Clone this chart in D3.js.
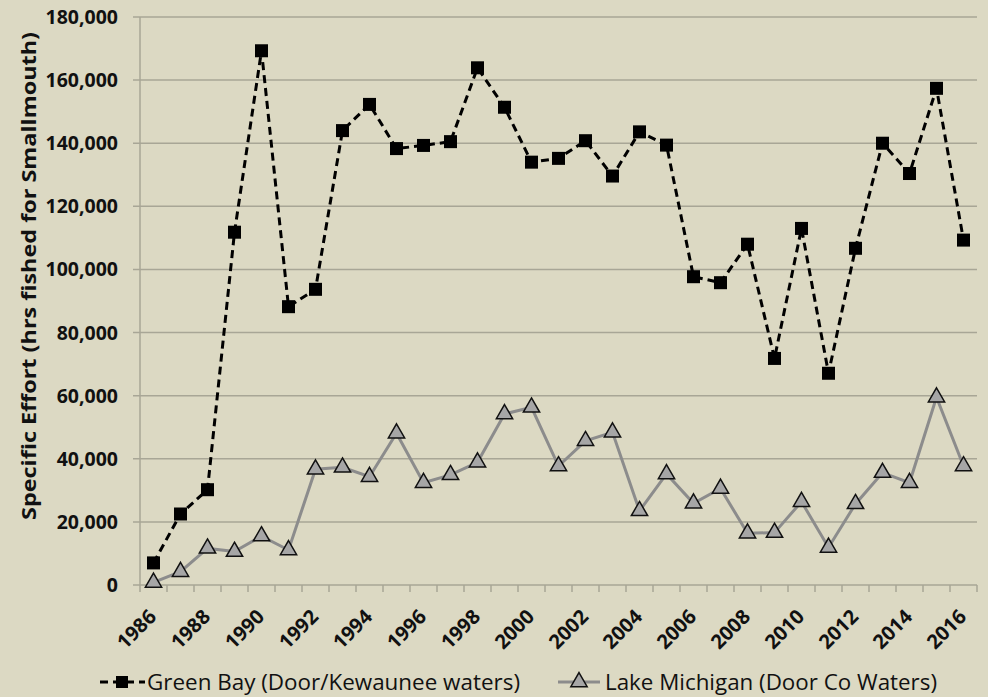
<!DOCTYPE html>
<html>
<head>
<meta charset="utf-8">
<script src="https://cdn.jsdelivr.net/npm/d3@7"></script>
<style>
  body { margin: 0; background: #dcd9c3; }
  svg { display: block; font-family: "Open Sans", sans-serif; }
</style>
</head>
<body>
<script>
// data
var years = d3.range(1986, 2017);
var greenBay = [7000, 22500, 30200, 111800, 169300, 88200, 93700, 144000, 152300, 138300,
  139300, 140500, 163900, 151400, 134000, 135200, 140800, 129600, 143600, 139400,
  97700, 95800, 108000, 71800, 113000, 67100, 106700, 140000, 130400, 157400, 109300];
var lakeMichigan = [800, 4200, 11600, 10600, 15500, 11100, 36700, 37300, 34300, 48100,
  32400, 34900, 38900, 54200, 56300, 37700, 45700, 48400, 23500, 35200,
  25900, 30600, 16400, 16600, 26400, 11900, 25700, 35600, 32400, 59500, 37700];
var yTicks = [0, 20000, 40000, 60000, 80000, 100000, 120000, 140000, 160000, 180000];
var xLabelYears = d3.range(1986, 2017, 2);

var width = 988, height = 697;
var margin = {top: 17, right: 11, bottom: 112, left: 140};
var innerW = width - margin.left - margin.right,
    innerH = height - margin.top - margin.bottom;

var svg = d3.select("body").append("svg")
    .attr("width", width)
    .attr("height", height);

svg.append("rect").attr("width", width).attr("height", height).attr("fill", "#dcd9c3");

var g = svg.append("g")
    .attr("transform", "translate(" + margin.left + "," + margin.top + ")");

var x = d3.scaleBand().domain(years).range([0, innerW]);
var y = d3.scaleLinear().domain([0, 180000]).range([innerH, 0]);

// gridlines + y ticks
g.selectAll(".grid")
    .data(yTicks)
    .enter().append("line")
    .attr("x1", -7).attr("x2", innerW)
    .attr("y1", function(d) { return y(d); })
    .attr("y2", function(d) { return y(d); })
    .attr("stroke", "#a8a696")
    .attr("stroke-width", 1.5);

g.selectAll(".ylab")
    .data(yTicks)
    .enter().append("text")
    .attr("x", -22)
    .attr("y", function(d) { return y(d); })
    .attr("dy", "0.36em")
    .attr("text-anchor", "end")
    .style("font-weight", "bold")
    .style("font-size", "19.5px")
    .attr("fill", "#111")
    .text(function(d) { return d3.format(",")(d); });

// y axis line
g.append("line")
    .attr("x1", 0).attr("x2", 0).attr("y1", 0).attr("y2", innerH)
    .attr("stroke", "#a8a696").attr("stroke-width", 1.5);

// x tick marks at category boundaries
var bounds = years.map(function(d) { return x(d); }).concat([innerW]);
g.selectAll(".xtick")
    .data(bounds)
    .enter().append("line")
    .attr("x1", function(d) { return d; })
    .attr("x2", function(d) { return d; })
    .attr("y1", innerH).attr("y2", innerH + 7)
    .attr("stroke", "#a8a696").attr("stroke-width", 1.5);

g.selectAll(".xlab")
    .data(xLabelYears)
    .enter().append("text")
    .attr("transform", function(d) {
        return "translate(" + (x(d) + x.bandwidth() / 2 + 4) + "," + (innerH + 33) + ") rotate(-45)";
    })
    .attr("text-anchor", "end")
    .style("font-weight", "bold")
    .style("font-size", "20px")
    .attr("fill", "#111")
    .text(function(d) { return d; });

// y axis title
svg.append("text")
    .attr("transform", "translate(36,276) rotate(-90)")
    .attr("text-anchor", "middle")
    .style("font-weight", "bold")
    .style("font-size", "19.5px")
    .attr("textLength", 488)
    .attr("lengthAdjust", "spacingAndGlyphs")
    .attr("fill", "#111")
    .text("Specific Effort (hrs fished for Smallmouth)");

var cx = function(d, i) { return x(years[i]) + x.bandwidth() / 2; };
var line = d3.line()
    .x(cx)
    .y(function(d) { return y(d); });

// Lake Michigan series
g.append("path")
    .datum(lakeMichigan)
    .attr("d", line)
    .attr("fill", "none")
    .attr("stroke", "#8c8c8c")
    .attr("stroke-width", 3);

var tri = d3.symbol().type(d3.symbolTriangle).size(115);
g.selectAll(".tri")
    .data(lakeMichigan)
    .enter().append("path")
    .attr("d", tri)
    .attr("transform", function(d, i) { return "translate(" + cx(d, i) + "," + y(d) + ")"; })
    .attr("fill", "#a6a6a6")
    .attr("stroke", "#111")
    .attr("stroke-width", 1.5);

// Green Bay series
g.append("path")
    .datum(greenBay)
    .attr("d", line)
    .attr("fill", "none")
    .attr("stroke", "#000")
    .attr("stroke-width", 3)
    .attr("stroke-dasharray", "8,5");

g.selectAll(".sq")
    .data(greenBay)
    .enter().append("rect")
    .attr("x", function(d, i) { return cx(d, i) - 6.5; })
    .attr("y", function(d) { return y(d) - 6.5; })
    .attr("width", 13).attr("height", 13)
    .attr("fill", "#000");

// legend
var leg = svg.append("g");
leg.append("line")
    .attr("x1", 100).attr("x2", 145).attr("y1", 682).attr("y2", 682)
    .attr("stroke", "#000").attr("stroke-width", 3).attr("stroke-dasharray", "8,5");
leg.append("rect")
    .attr("x", 116).attr("y", 676).attr("width", 12).attr("height", 12).attr("fill", "#000");
leg.append("text")
    .attr("x", 147).attr("y", 690)
    .style("font-size", "21px")
    .attr("textLength", 373)
    .attr("lengthAdjust", "spacingAndGlyphs")
    .attr("fill", "#111")
    .text("Green Bay (Door/Kewaunee waters)");

leg.append("line")
    .attr("x1", 558).attr("x2", 600).attr("y1", 682).attr("y2", 682)
    .attr("stroke", "#8c8c8c").attr("stroke-width", 3);
leg.append("path")
    .attr("d", tri)
    .attr("transform", "translate(579,682)")
    .attr("fill", "#a6a6a6").attr("stroke", "#111").attr("stroke-width", 1.5);
leg.append("text")
    .attr("x", 605).attr("y", 690)
    .style("font-size", "21px")
    .attr("textLength", 332)
    .attr("lengthAdjust", "spacingAndGlyphs")
    .attr("fill", "#111")
    .text("Lake Michigan (Door Co Waters)");
</script>
</body>
</html>
